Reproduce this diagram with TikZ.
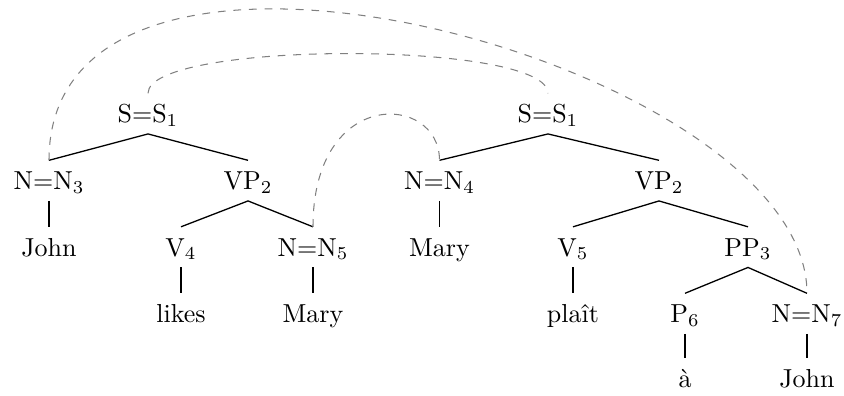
\documentclass[tikz,border=0pt]{standalone}
\begin{document}
\begin{tikzpicture}[x=0.3846pt,y=-0.3846pt,
  lbl/.style={inner sep=0pt,outer sep=4.4pt,text height=6.83pt,text depth=0pt,anchor=base},
  branch/.style={line width=0.5pt},
  link/.style={dashed,gray,line width=0.4pt}]
\useasboundingbox (0,0) rectangle (844,395);
% left tree
\node[lbl] (sa) at (148,122.5) {S=S$_1$};
\node[lbl] (n3) at (49,189.5) {N=N$_3$};
\node[lbl] (vpa) at (248,189.5) {VP$_2$};
\node[lbl] (john1) at (49,256) {John};
\node[lbl] (v4) at (181,256) {V$_4$};
\node[lbl] (n5) at (313,256) {N=N$_5$};
\node[lbl] (likes) at (181,322.5) {likes};
\node[lbl] (mary2) at (313,322.5) {Mary};
% right tree
\node[lbl] (sb) at (548,122.5) {S=S$_1$};
\node[lbl] (n4) at (439.5,189.5) {N=N$_4$};
\node[lbl] (vpb) at (659,189.5) {VP$_2$};
\node[lbl] (mary1) at (439.5,256) {Mary};
\node[lbl] (v5) at (573,256) {V$_5$};
\node[lbl] (pp3) at (748,256) {PP$_3$};
\node[lbl] (plait) at (573,322.5) {plaît};
\node[lbl] (p6) at (685,322.5) {P$_6$};
\node[lbl] (n7) at (807,322.5) {N=N$_7$};
\node[lbl] (a) at (685,387) {à};
\node[lbl] (john2) at (807,387) {John};
% branches
\draw[branch] (n3.north) -- (sa.south) -- (vpa.north);
\draw[branch] (n3.south) -- (john1.north);
\draw[branch] (v4.north) -- (vpa.south) -- (n5.north);
\draw[branch] (v4.south) -- (likes.north);
\draw[branch] (n5.south) -- (mary2.north);
\draw[branch] (n4.north) -- (sb.south) -- (vpb.north);
\draw[branch] (n4.south) -- (mary1.north);
\draw[branch] (v5.north) -- (vpb.south) -- (pp3.north);
\draw[branch] (v5.south) -- (plait.north);
\draw[branch] (p6.north) -- (pp3.south) -- (n7.north);
\draw[branch] (p6.south) -- (a.north);
\draw[branch] (n7.south) -- (john2.north);
% links
\draw[link] (n3.north) .. controls +(0,-301.5) and +(0,-230.5) .. (n7.north);
\draw[link] (sa.north) .. controls +(0,-53) and +(0,-53) .. (sb.north);
\draw[link] (n5.north) .. controls +(0,-140.6) and +(0,-67) .. (n4.north);
\end{tikzpicture}
\end{document}
